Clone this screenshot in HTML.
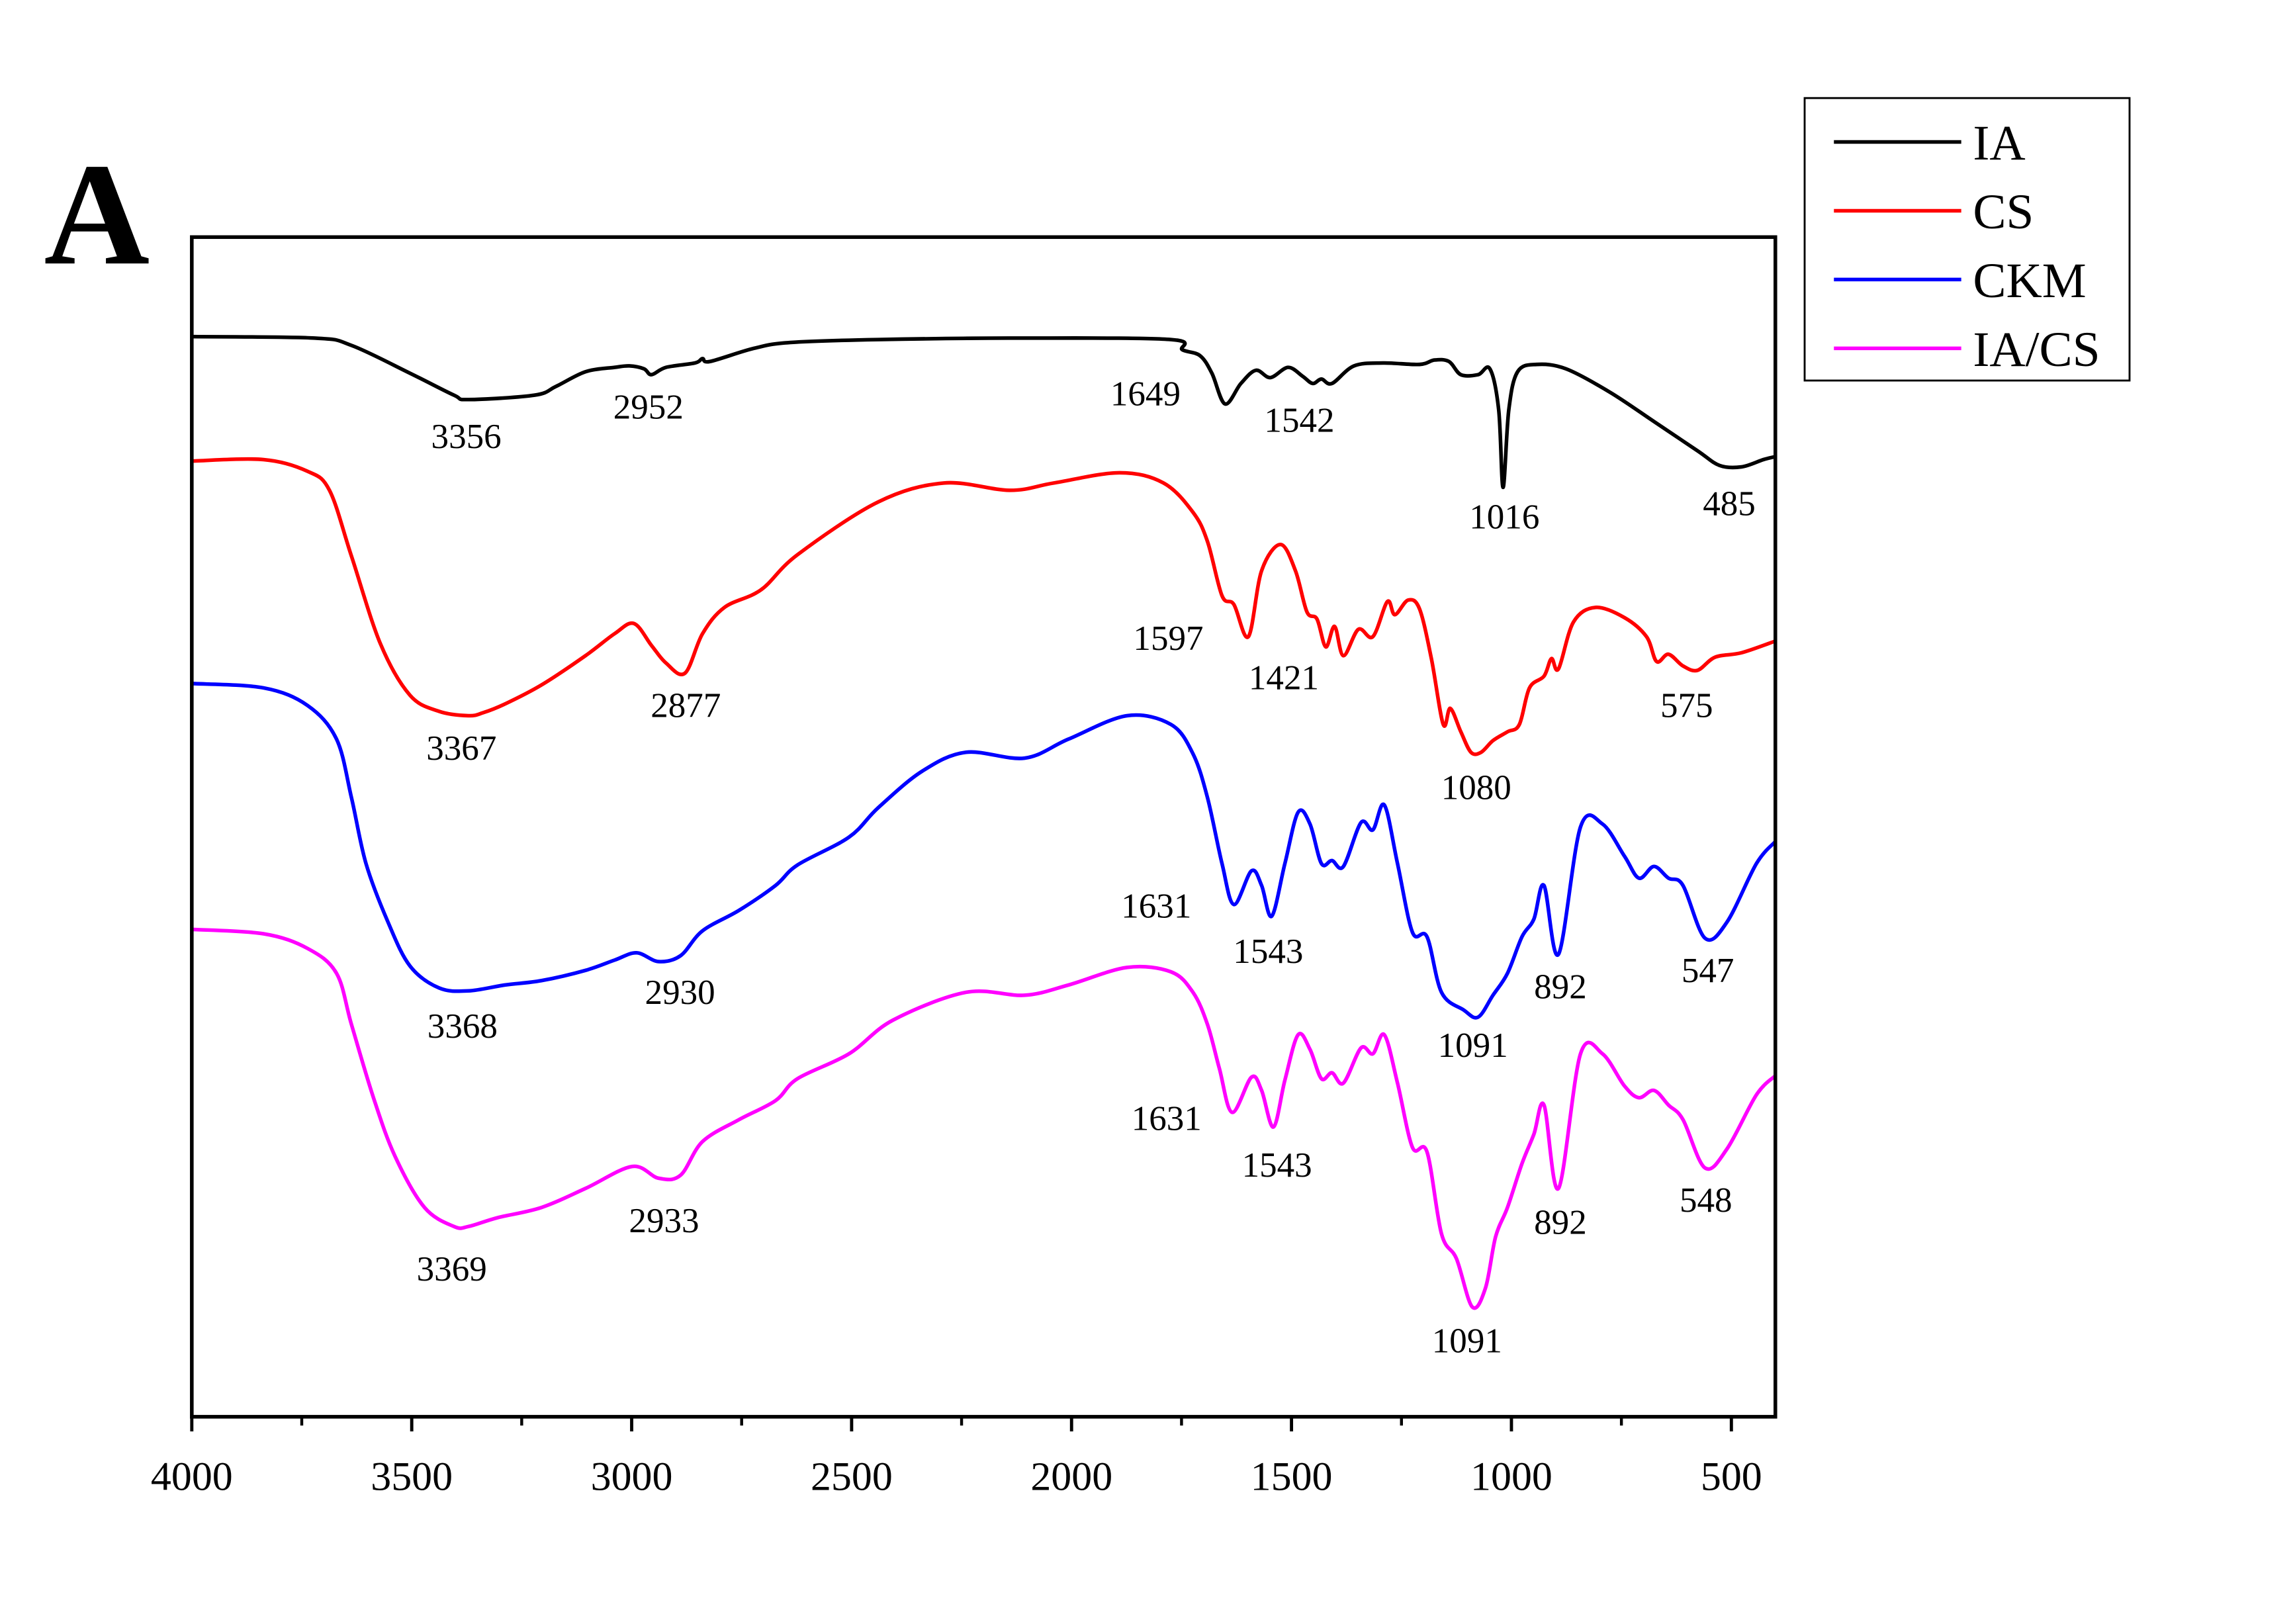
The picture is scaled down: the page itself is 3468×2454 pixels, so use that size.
<!DOCTYPE html>
<html><head><meta charset="utf-8"><style>
html,body{margin:0;padding:0;background:#fff}
svg{display:block}
text{font-family:"Liberation Serif",serif}
</style></head><body>
<svg id="chart" width="3468" height="2454" viewBox="0 0 1568 1109.6" xmlns="http://www.w3.org/2000/svg">
<rect x="0" y="0" width="1568" height="1110" fill="#fff"/>
<text x="30" y="180" font-size="100" font-weight="bold">A</text>
<g id="plot"></g>
<rect x="131" y="162" width="1082" height="806" fill="none" stroke="#000" stroke-width="2.5"/>
<g>
<rect x="1233" y="67" width="222" height="193" fill="#fff" stroke="#000" stroke-width="1.3"/>
<line x1="1253" y1="97" x2="1340" y2="97" stroke="#000" stroke-width="2.5"/>
<text x="1348" y="109" font-size="34">IA</text>
<line x1="1253" y1="144" x2="1340" y2="144" stroke="#f00" stroke-width="2.5"/>
<text x="1348" y="156" font-size="34">CS</text>
<line x1="1253" y1="191" x2="1340" y2="191" stroke="#00f" stroke-width="2.5"/>
<text x="1348" y="203" font-size="34">CKM</text>
<line x1="1253" y1="238" x2="1340" y2="238" stroke="#f0f" stroke-width="2.5"/>
<text x="1348" y="250" font-size="34">IA/CS</text>
</g>
</svg>
<script>
const xTicks = [4000,3500,3000,2500,2000,1500,1000,500];
const xMinor = [3750,3250,2750,2250,1750,1250,750];
const iaWn = [4000,3721,3637,3504,3404,3371,3221,3172,3105,3039,3005,2972,2955,2922,2856,2839,2822,2722,2639,2440,2107,1774,1748,1708,1681,1651,1615,1581,1548,1508,1475,1452,1432,1408,1358,1292,1209,1175,1142,1115,1076,1049,1029,1019,1006,986,943,876,776,676,577,527,477,427,400];
const iaT = [738,737,732,713,698,695,698,704,714,717,718,716,712,717,720,723,721,730,734,736,737,736,729,725,713,692,706,715,710,717,711,706,709,706,718,720,719,722,721,712,712,716,688,635,688,714,719,716,700,680,660,650,649,654,656];
const csWn = [4000,3837,3737,3687,3637,3571,3504,3438,3371,3338,3288,3205,3105,3039,2995,2955,2922,2879,2839,2789,2706,2623,2440,2290,2140,2040,1891,1791,1724,1691,1658,1631,1598,1568,1525,1491,1465,1442,1422,1402,1382,1348,1315,1282,1265,1235,1209,1182,1155,1139,1115,1092,1069,1042,1009,982,959,926,909,893,859,809,743,693,670,643,610,577,537,477,400];
const csT = [653,654,646,633,588,528,493,482,479,481,487,500,520,535,542,527,515,508,535,553,565,589,625,638,633,638,645,638,618,598,561,555,533,578,596,578,550,545,526,540,520,538,533,557,548,558,552,518,473,484,468,454,454,462,468,473,498,506,518,511,543,553,546,533,516,521,513,510,519,522,530];
const ckmWn = [4000,3837,3737,3671,3637,3604,3554,3504,3438,3371,3288,3205,3105,3039,2989,2939,2889,2839,2756,2673,2623,2506,2440,2340,2240,2107,2007,1874,1774,1724,1691,1658,1631,1591,1568,1545,1515,1485,1458,1432,1408,1382,1342,1315,1289,1259,1225,1192,1159,1109,1076,1042,1009,976,949,926,893,843,793,743,710,676,643,610,560,510,443,400];
const ckmT = [501,498,486,463,423,378,338,308,293,291,295,298,305,312,317,311,315,332,346,363,377,396,416,441,454,450,463,479,473,453,423,378,350,373,363,342,378,413,405,378,380,376,406,401,418,378,331,328,290,278,273,288,303,328,340,363,316,403,405,383,368,376,368,363,327,338,378,393];
const iacsWn = [4000,3837,3737,3671,3637,3587,3538,3471,3404,3371,3305,3205,3105,2999,2939,2889,2839,2756,2673,2623,2506,2406,2240,2107,2007,1874,1774,1724,1691,1664,1635,1591,1568,1541,1515,1485,1458,1432,1408,1382,1342,1315,1289,1259,1225,1192,1159,1125,1089,1059,1036,1009,976,949,926,893,843,793,743,710,676,643,610,560,510,443,400];
const iacsT = [333,330,320,303,268,218,178,143,130,130,136,143,156,171,163,165,188,203,216,231,248,271,290,288,295,307,304,290,268,238,208,232,223,198,230,261,251,231,235,228,252,248,261,228,184,181,125,108,75,88,123,143,173,193,213,156,248,248,226,218,223,213,203,170,183,220,233];
const peakText = ["3356","2952","1649","1542","1016","485","1597","1421","3367","2877","1080","575","1631","1543","3368","2930","1091","892","547","1631","1543","3369","2933","892","548","1091"];
const peakWn = [3356,2952,1649,1542,1016,485,1597,1421,3367,2877,1080,575,1631,1543,3368,2930,1091,892,547,1631,1543,3369,2933,892,548,1091];
const peakT = [662,682,691,673,607,616,524,497,449,478,422,478,341,310,259,282,246,286,297,196,164,93,126,125,140,44];
const peakDx = [-6,-3,-55,18,0,-6,-55,-29,-6,0,0,-8,-53,-3,-5,12,1,1,-2,-46,3,-12,2,1,-3,-3];

const X0=131, X1=1213, Y0=968, Y1=162;
function sx(w){ return X0 + (4000 - w)*(X1-X0)/3600; }
function sy(v){ return Y0 - v*(Y0-Y1)/806; }
const NS="http://www.w3.org/2000/svg";
const plot=document.getElementById('plot');
function mk(tag,attrs){const e=document.createElementNS(NS,tag);for(const k in attrs)e.setAttribute(k,attrs[k]);return e;}
xTicks.forEach(t=>{
  const l=mk('line',{x1:sx(t),x2:sx(t),y1:Y0,y2:Y0+10,stroke:'#000','stroke-width':2.2});
  
  
  plot.appendChild(l);
  const tx=mk('text',{x:sx(t),y:1018,'font-size':28,'text-anchor':'middle'});
  
  
  tx.textContent=t; plot.appendChild(tx);
});
xMinor.forEach(t=>{
  const l=mk('line',{x1:sx(t),x2:sx(t),y1:Y0,y2:Y0+6,stroke:'#000','stroke-width':2});
  
  
  plot.appendChild(l);
});
function pathFrom(wn,t){
  const p=wn.map((w,i)=>[sx(w),sy(t[i])]);
  let d='M'+p[0][0]+','+p[0][1];
  for(let i=0;i<p.length-1;i++){
    const a=p[Math.max(i-1,0)],b=p[i],c=p[i+1],e=p[Math.min(i+2,p.length-1)];
    const c1=[b[0]+(c[0]-a[0])/6,b[1]+(c[1]-a[1])/6];
    const c2=[c[0]-(e[0]-b[0])/6,c[1]-(e[1]-b[1])/6];
    d+=' C'+c1[0]+','+c1[1]+' '+c2[0]+','+c2[1]+' '+c[0]+','+c[1];
  }
  return d;
}
const series=[['ia',iaWn,iaT,'#000'],['cs',csWn,csT,'#f00'],['ckm',ckmWn,ckmT,'#00f'],['iacs',iacsWn,iacsT,'#f0f']];
series.forEach(s=>{
  const pth=mk('path',{d:pathFrom(s[1],s[2]),fill:'none',stroke:s[3],'stroke-width':2.5,'stroke-linejoin':'round'});
  
  
  plot.appendChild(pth);
});
peakText.forEach((s,i)=>{
  const tx=mk('text',{x:sx(peakWn[i])+peakDx[i],y:sy(peakT[i]),'font-size':24,'text-anchor':'middle'});
  
  
  tx.textContent=s; plot.appendChild(tx);
});
</script>
</body></html>
